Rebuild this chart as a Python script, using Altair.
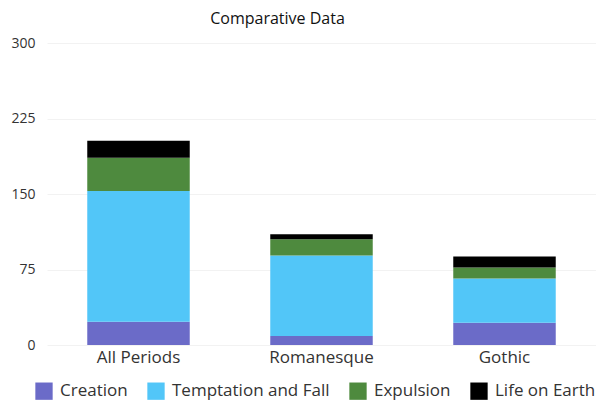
import altair as alt
import pandas as pd

periods = ["All Periods", "Romanesque", "Gothic"]
series = ["Creation", "Temptation and Fall", "Expulsion", "Life on Earth"]
colors = ["#6b6bc8", "#52c6f8", "#4e8a3e", "#000000"]
creation = [23, 9, 22]
temptation = [130, 80, 44]
expulsion = [33, 16, 11]
life = [17, 5, 11]

rows = []
for i, p in enumerate(periods):
    for j, (s, vals) in enumerate(zip(series, [creation, temptation, expulsion, life])):
        rows.append({"period": p, "series": s, "value": vals[i], "order": j})
df = pd.DataFrame(rows)

FONT = "Open Sans"

chart = alt.Chart(df).mark_bar().encode(
    x=alt.X("period:N", sort=periods, title=None,
            scale=alt.Scale(paddingInner=0.44, paddingOuter=0.22),
            axis=alt.Axis(labelAngle=0, labelFontSize=17, labelColor="#333",
                          labelFont=FONT, domain=False, ticks=False, labelPadding=4)),
    y=alt.Y("value:Q", stack="zero", title=None,
            scale=alt.Scale(domain=[0, 300]),
            axis=alt.Axis(values=[0, 75, 150, 225, 300], labelFontSize=14, labelColor="#333",
                          labelFont=FONT, domain=False, ticks=False, labelPadding=12,
                          gridColor="#f2f2f2", gridWidth=1)),
    color=alt.Color("series:N", sort=series,
                    scale=alt.Scale(domain=series, range=colors),
                    legend=alt.Legend(orient="none", legendX=-12, legendY=339,
                                      title=None, direction="horizontal",
                                      symbolType="square", symbolSize=300, symbolStrokeWidth=0,
                                      symbolOpacity=1, labelLimit=300,
                                      labelFontSize=17, labelFont=FONT, labelColor="#333",
                                      labelOffset=7, columnPadding=19)),
    order=alt.Order("order:Q", sort="ascending"),
).properties(
    width=549, height=302,
    title=alt.TitleParams("Comparative Data", fontSize=16, font=FONT, fontWeight="normal",
                          color="#111", anchor="middle", offset=9, dx=-44),
).configure(padding={"left": 2, "right": 0, "top": 3, "bottom": 0}).configure_view(stroke=None)

chart.save("out.html", embed_options={"renderer": "svg", "actions": False})
